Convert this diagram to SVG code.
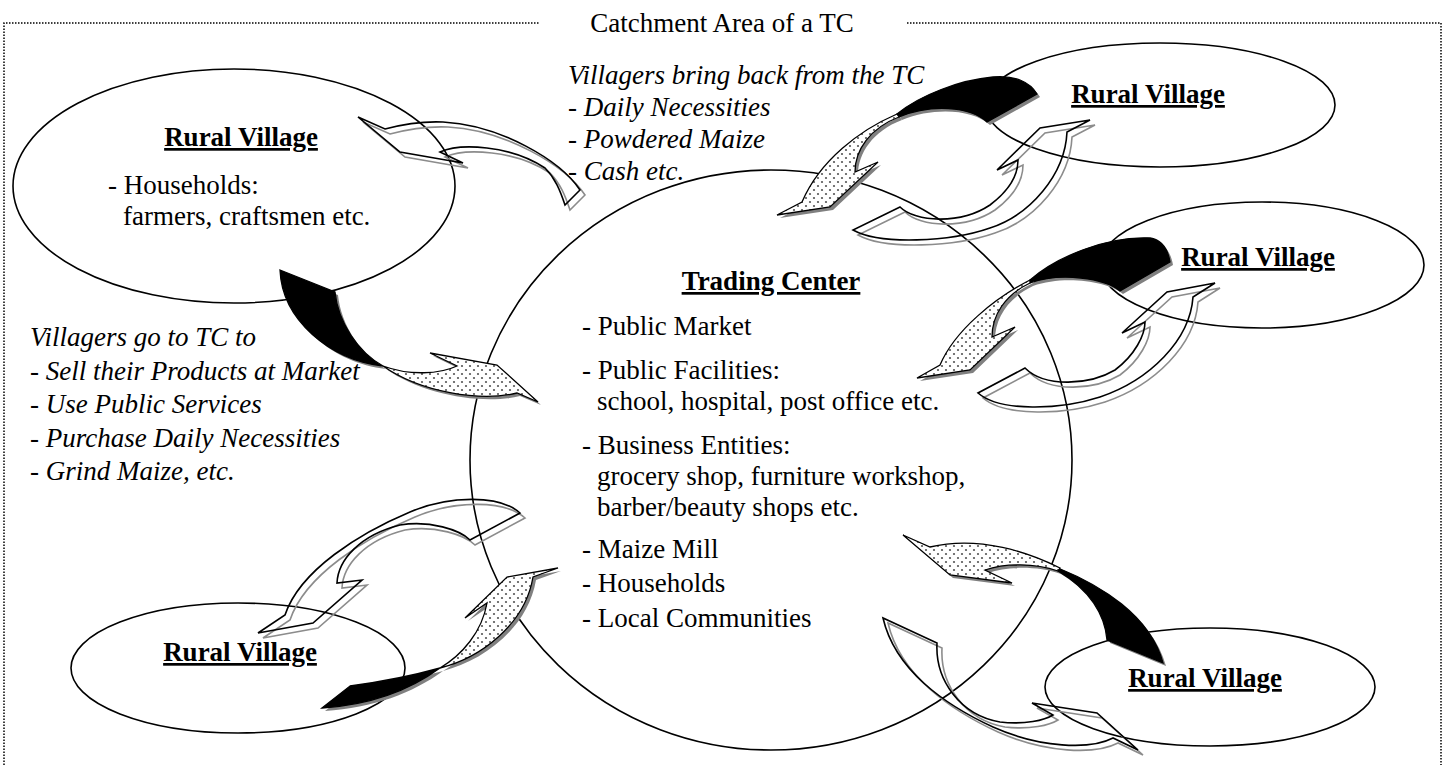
<svg xmlns="http://www.w3.org/2000/svg" width="1445" height="765" viewBox="0 0 1445 765">
<defs>
<pattern id="dots" width="8" height="8" patternUnits="userSpaceOnUse">
<rect width="8" height="8" fill="#fff"/>
<circle cx="2" cy="2" r="1.1" fill="#555"/>
<circle cx="6" cy="6" r="1.1" fill="#555"/>
</pattern>
<path id="aBlk" d="M280,270 L335,292 C338,322 358,352 383,366 C330,360 282,320 280,270 Z"/>
<path id="aDot" d="M383,366 C420,392 480,402 517,393 L538,402 L497,365 L430,353 L457,366 C440,374 410,376 383,366 Z"/>
<path id="aWht" d="M580,190 C560,160 500,125 443,122 C420,121 400,125 385,129 L358,117 L400,152 L463,163 L440,152 C460,143 510,145 545,168 C555,178 560,190 565,205 Z"/>
<path id="bBlk" d="M897,114 C920,95 960,80 993,77 C1015,75 1030,82 1037,94 L987,122 C970,106 930,104 899,117 Z"/>
<path id="bDot" d="M897,114 C860,130 820,160 802,202 L777,215 L830,207 L878,162 L855,172 C855,150 870,128 899,117 Z"/>
<path id="bWht" d="M900,207 C915,222 960,225 990,205 C1010,190 1018,175 1018,160 L997,170 L1040,128 L1090,120 L1067,132 C1065,175 1030,215 990,228 C950,242 880,245 853,230 Z"/>
<path id="cBlk" d="M1030,280 C1055,258 1105,236 1150,238 C1162,240 1168,250 1170,262 L1120,291 C1105,278 1060,272 1030,283 Z"/>
<path id="cDot" d="M1030,280 C995,298 955,330 940,365 L917,378 L970,370 L1015,327 L992,337 C992,315 1005,295 1030,283 Z"/>
<path id="cWht" d="M1025,368 C1045,388 1090,385 1115,370 C1135,355 1145,335 1145,322 L1122,333 L1167,292 L1215,283 L1193,297 C1190,340 1150,380 1100,397 C1060,410 1000,412 978,393 Z"/>
<path id="dBlk" d="M440,668 C410,690 370,705 322,708 L350,686 C380,682 415,675 440,668 Z"/>
<path id="dDot" d="M440,668 C480,658 525,625 533,577 L558,568 L507,577 L465,618 L487,603 C482,632 462,655 440,668 Z"/>
<path id="dWht" d="M520,513 C500,495 450,495 410,512 C360,533 300,570 285,615 L258,633 L313,623 L362,580 L337,583 C338,560 360,535 400,525 C430,520 460,530 470,540 Z"/>
<path id="eBlk" d="M1058,568 C1100,585 1150,615 1163,663 L1107,640 C1105,615 1090,590 1058,571 Z"/>
<path id="eDot" d="M1060,568 C1030,553 980,535 930,547 L903,535 L950,575 L1012,583 L985,570 C1005,563 1035,563 1058,571 Z"/>
<path id="eWht" d="M937,643 C935,680 960,715 1000,722 C1025,725 1045,720 1053,715 L1032,703 L1097,713 L1138,750 L1113,738 C1090,750 1040,748 993,727 C945,705 895,670 883,618 Z"/>
</defs>
<style>
.t{font-family:"Liberation Serif","Times New Roman",serif;font-size:27px;fill:#000}
.i{font-style:italic}
.b{font-weight:bold;text-decoration:underline}
.node{fill:none;stroke:#000;stroke-width:1.6}
.dot{fill:url(#dots);stroke:#000;stroke-width:1.3}
.blk{fill:#000;stroke:#000;stroke-width:1.3}
.sh{fill:#808080;stroke:none}
.wa{fill:none;stroke:#000;stroke-width:1.6}
.ws{fill:none;stroke:#8c8c8c;stroke-width:1.6}
.border{fill:none;stroke:#000;stroke-width:1.5;stroke-dasharray:1.5 1.5}
</style>
<rect width="1445" height="765" fill="#fff"/>
<g id="catchment-area">
<path class="border" d="M4,765 L4,23 L540,23 M907,23 L1441,23 L1441,765"/>
<text class="t" x="722" y="32" text-anchor="middle">Catchment Area of a TC</text>
</g>
<g id="trading-center">
<ellipse class="node" cx="771" cy="460" rx="301" ry="290"/>
<text class="t b" x="771" y="290" text-anchor="middle">Trading Center</text>
<text class="t" x="582" y="335">- Public Market</text>
<text class="t" x="582" y="379">- Public Facilities:</text>
<text class="t" x="597" y="410">school, hospital, post office etc.</text>
<text class="t" x="582" y="454">- Business Entities:</text>
<text class="t" x="597" y="485">grocery shop, furniture workshop,</text>
<text class="t" x="597" y="516">barber/beauty shops etc.</text>
<text class="t" x="582" y="558">- Maize Mill</text>
<text class="t" x="582" y="592">- Households</text>
<text class="t" x="582" y="627">- Local Communities</text>
</g>
<g id="village-top-left">
<ellipse class="node" cx="234" cy="186" rx="221" ry="117"/>
<text class="t b" x="241" y="146" text-anchor="middle">Rural Village</text>
<text class="t" x="108" y="194">- Households:</text>
<text class="t" x="123" y="225">farmers, craftsmen etc.</text>
</g>
<g id="village-top-right">
<ellipse class="node" cx="1160" cy="105" rx="175" ry="62"/>
<text class="t b" x="1148" y="103" text-anchor="middle">Rural Village</text>
</g>
<g id="village-middle-right">
<ellipse class="node" cx="1262" cy="265" rx="162" ry="63"/>
<text class="t b" x="1258" y="266" text-anchor="middle">Rural Village</text>
</g>
<g id="village-bottom-left">
<ellipse class="node" cx="238" cy="668" rx="167" ry="65"/>
<text class="t b" x="240" y="661" text-anchor="middle">Rural Village</text>
</g>
<g id="village-bottom-right">
<ellipse class="node" cx="1210" cy="687" rx="165" ry="59"/>
<text class="t b" x="1205" y="687" text-anchor="middle">Rural Village</text>
</g>
<g id="note-to-tc">
<text class="t i" x="30" y="346">Villagers go to TC to</text>
<text class="t i" x="30" y="380">- Sell their Products at Market</text>
<text class="t i" x="30" y="413">- Use Public Services</text>
<text class="t i" x="30" y="447">- Purchase Daily Necessities</text>
<text class="t i" x="30" y="480">- Grind Maize, etc.</text>
</g>
<g id="note-from-tc">
<text class="t i" x="568" y="84">Villagers bring back from the TC</text>
<text class="t i" x="568" y="116">- Daily Necessities</text>
<text class="t i" x="568" y="148">- Powdered Maize</text>
<text class="t i" x="568" y="180">- Cash etc.</text>
</g>
<g id="connectors">
<use href="#aBlk" class="sh" transform="translate(3,3)"/><use href="#aDot" class="sh" transform="translate(3,3)"/>
<use href="#aBlk" class="blk"/><use href="#aDot" class="dot"/>
<use href="#aWht" class="ws" transform="translate(5,5)"/><use href="#aWht" class="wa"/>
<use href="#bBlk" class="sh" transform="translate(3,3)"/><use href="#bDot" class="sh" transform="translate(3,3)"/>
<use href="#bBlk" class="blk"/><use href="#bDot" class="dot"/>
<use href="#bWht" class="ws" transform="translate(5,5)"/><use href="#bWht" class="wa"/>
<use href="#cBlk" class="sh" transform="translate(3,3)"/><use href="#cDot" class="sh" transform="translate(3,3)"/>
<use href="#cBlk" class="blk"/><use href="#cDot" class="dot"/>
<use href="#cWht" class="ws" transform="translate(5,5)"/><use href="#cWht" class="wa"/>
<use href="#dBlk" class="sh" transform="translate(3,3)"/><use href="#dDot" class="sh" transform="translate(3,3)"/>
<use href="#dBlk" class="blk"/><use href="#dDot" class="dot"/>
<use href="#dWht" class="ws" transform="translate(5,5)"/><use href="#dWht" class="wa"/>
<use href="#eBlk" class="sh" transform="translate(3,3)"/><use href="#eDot" class="sh" transform="translate(3,3)"/>
<use href="#eBlk" class="blk"/><use href="#eDot" class="dot"/>
<use href="#eWht" class="ws" transform="translate(5,5)"/><use href="#eWht" class="wa"/>
</g>
</svg>
